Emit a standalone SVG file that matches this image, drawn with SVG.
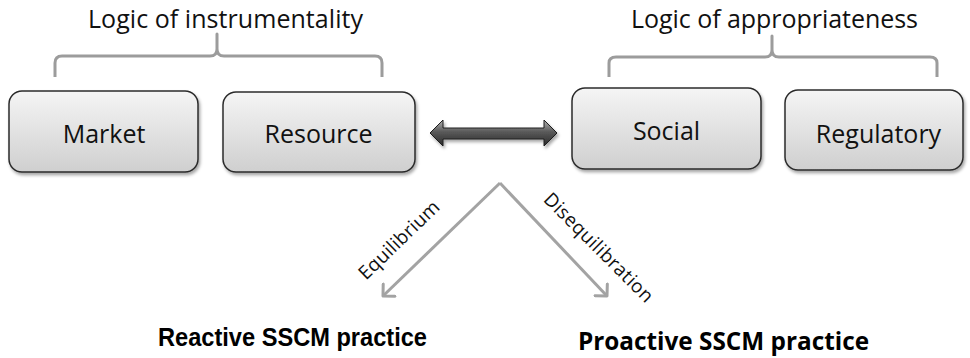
<svg xmlns="http://www.w3.org/2000/svg" width="970" height="358" viewBox="0 0 970 358">
  <defs>
    <linearGradient id="boxFill" x1="0" y1="0" x2="0" y2="1">
      <stop offset="0" stop-color="#f5f5f5"/>
      <stop offset="1" stop-color="#cfcfcf"/>
    </linearGradient>
    <linearGradient id="arrowFill" x1="0" y1="0" x2="0" y2="1">
      <stop offset="0" stop-color="#b0b0b0"/>
      <stop offset="0.45" stop-color="#5a5a5a"/>
      <stop offset="1" stop-color="#2a2a2a"/>
    </linearGradient>
    <filter id="shadow" x="-10%" y="-10%" width="130%" height="140%">
      <feDropShadow dx="1.5" dy="2.5" stdDeviation="1.8" flood-color="#000" flood-opacity="0.35"/>
    </filter>
    <marker id="openArrow" viewBox="0 0 12 20" refX="10" refY="10" markerWidth="12" markerHeight="20" markerUnits="userSpaceOnUse" orient="auto">
      <path d="M1.5,1.5 L10,10 L1.5,18.5" fill="none" stroke="#a3a3a3" stroke-width="3" stroke-linecap="round" stroke-linejoin="round"/>
    </marker>
    <style>
      .box { fill: url(#boxFill); stroke: #2b2b2b; stroke-width: 1.5; filter: url(#shadow); }
      .lbl { font-family: "Open Sans", "Liberation Sans", sans-serif; font-size: 25px; fill: #111; text-anchor: middle; }
      .title { font-family: "Open Sans", "Liberation Sans", sans-serif; font-size: 25px; fill: #111; text-anchor: middle; }
      .brace { fill: none; stroke: #9c9c9c; stroke-width: 3; stroke-linejoin: round; }
      .vline { fill: none; stroke: #a3a3a3; stroke-width: 3; }
      .small { font-family: "Open Sans", "Liberation Sans", sans-serif; font-size: 19px; fill: #111; text-anchor: middle; }
      .outR { font-family: "Liberation Sans", Arial, sans-serif; font-weight: bold; font-size: 26px; fill: #000; text-anchor: start; }
      .outP { font-family: "Open Sans", "Liberation Sans", sans-serif; font-weight: bold; font-size: 25px; fill: #000; text-anchor: start; }
    </style>
  </defs>
  <rect x="0" y="0" width="970" height="358" fill="#ffffff"/>

  <g id="group-instrumentality">
    <text class="title" x="225.5" y="28" textLength="275">Logic of instrumentality</text>
    <path class="brace" d="M55,77 V63 Q55,56 62,56 H210 Q217,56 217,49 V34 V49 Q217,56 224,56 H375 Q382,56 382,63 V77"/>
  </g>

  <g id="group-appropriateness">
    <text class="title" x="774.5" y="28" textLength="287">Logic of appropriateness</text>
    <path class="brace" d="M609,77 V63 Q609,57 616,57 H765 Q772,57 772,50 V36 V50 Q772,57 779,57 H930 Q937,57 937,63 V77"/>
  </g>

  <g id="node-market">
    <rect class="box" x="9" y="91" width="189" height="81" rx="13"/>
    <text class="lbl" x="104" y="143">Market</text>
  </g>

  <g id="node-resource">
    <rect class="box" x="223" y="92" width="192" height="80" rx="13"/>
    <text class="lbl" x="318.5" y="143">Resource</text>
  </g>

  <g id="node-social">
    <rect class="box" x="572" y="88" width="189" height="81" rx="13"/>
    <text class="lbl" x="666.5" y="140">Social</text>
  </g>

  <g id="node-regulatory">
    <rect class="box" x="785" y="90" width="178" height="80" rx="13"/>
    <text class="lbl" x="878.5" y="143">Regulatory</text>
  </g>

  <g id="connectors">
    <polygon points="430,133 443,120 443,128 544,128 544,120 557,133 544,146 544,139 443,139 443,146" fill="url(#arrowFill)" stroke="#1e1e1e" stroke-width="1" stroke-linejoin="miter" filter="url(#shadow)"/>
    <path class="vline" d="M500,183 L383,296" marker-end="url(#openArrow)"/>
    <path class="vline" d="M500,183 L607,296" marker-end="url(#openArrow)"/>
    <text class="small" transform="translate(403.5,244.6) rotate(-44)" x="0" y="0" textLength="104">Equilibrium</text>
    <text class="small" transform="translate(594,252) rotate(45)" x="0" y="0" textLength="146">Disequilibration</text>
  </g>

  <g id="node-reactive">
    <text class="outR" x="158" y="346" textLength="269" lengthAdjust="spacingAndGlyphs">Reactive SSCM practice</text>
  </g>

  <g id="node-proactive">
    <text class="outP" x="578" y="350" textLength="291" lengthAdjust="spacingAndGlyphs">Proactive SSCM practice</text>
  </g>
</svg>
